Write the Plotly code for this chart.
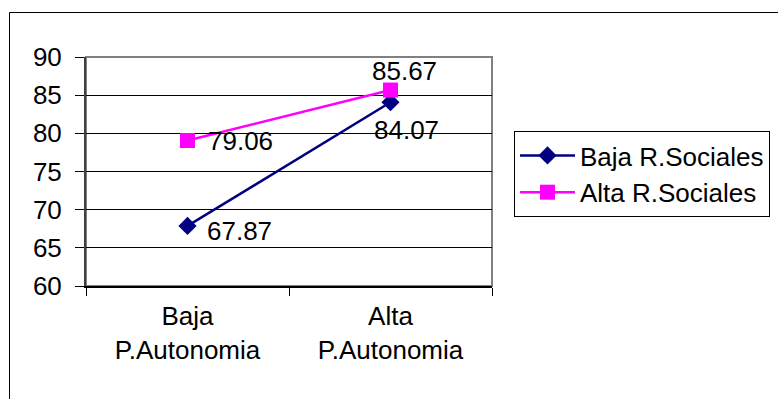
import plotly.graph_objects as go

categories = ["Baja<br>P.Autonomia", "Alta<br>P.Autonomia"]
series_names = ["Baja R.Sociales", "Alta R.Sociales"]
baja_rs = [67.87, 84.07]
alta_rs = [79.06, 85.67]
y_ticks = [60, 65, 70, 75, 80, 85, 90]

FONT = "Liberation Sans, Arial, sans-serif"
FS = 26

fig = go.Figure()
fig.add_trace(go.Scatter(
    x=categories, y=baja_rs, name=series_names[0], mode="lines+markers",
    line=dict(color="#000080", width=2.5),
    marker=dict(symbol="diamond", size=14, color="#000080"),
))
fig.add_trace(go.Scatter(
    x=categories, y=alta_rs, name=series_names[1], mode="lines+markers",
    line=dict(color="#FF00FF", width=2.5),
    marker=dict(symbol="square", size=15, color="#FF00FF"),
))

# data labels
label_offsets = {
    (0, 0): (17, -5, "left"), (0, 1): (16, -28, "center"),
    (1, 0): (18, 0, "left"), (1, 1): (14, 19, "center"),
}
for si, vals in enumerate([baja_rs, alta_rs]):
    for ci, v in enumerate(vals):
        dx, dy, xa = label_offsets[(si, ci)]
        fig.add_annotation(x=categories[ci], y=v, xref="x", yref="y",
                           text=f"{v:.2f}", showarrow=False,
                           xanchor=xa, yanchor="middle", xshift=dx, yshift=dy,
                           font=dict(family=FONT, size=FS, color="black"))

W, H = 778, 399
L, R, T, B = 86, 492, 57, 286
pw, ph = R - L, B - T

def px(xp):
    return (xp - L) / pw

def py(yp):
    return (B - yp) / ph

fig.update_layout(
    width=W, height=H,
    margin=dict(l=L, r=W - R, t=T, b=H - B, pad=0, autoexpand=False),
    paper_bgcolor="white", plot_bgcolor="white",
    font=dict(family=FONT, size=FS, color="black"),
    showlegend=True,
    legend=dict(x=px(514), y=py(131), xanchor="left", yanchor="top",
                bordercolor="black", borderwidth=1, bgcolor="white",
                font=dict(family=FONT, size=FS), itemwidth=55,
                tracegroupgap=0),
    xaxis=dict(type="category", range=[-0.5, 1.5], showgrid=False,
               showline=True, linecolor="black", linewidth=2,
               ticks="outside", tickson="boundaries", ticklen=8,
               tickcolor="black", tickwidth=1, ticklabelstandoff=6,
               tickfont=dict(family=FONT, size=FS)),
    yaxis=dict(range=[60, 90], tickvals=y_ticks, showgrid=True,
               gridcolor="black", gridwidth=1,
               showline=True, linecolor="#404040", linewidth=2,
               ticks="outside", ticklen=9, tickcolor="black", tickwidth=1,
               ticklabelstandoff=8, zeroline=False,
               tickfont=dict(family=FONT, size=FS)),
    shapes=[
        dict(type="rect", xref="paper", yref="paper", x0=0, x1=1, y0=0, y1=1,
             line=dict(color="#808080", width=2), layer="between"),
        dict(type="rect", xref="paper", yref="paper",
             x0=px(9.5), x1=px(790), y0=py(420), y1=py(12.5),
             line=dict(color="black", width=1), layer="below"),
    ],
)

fig.write_html("out.html")
